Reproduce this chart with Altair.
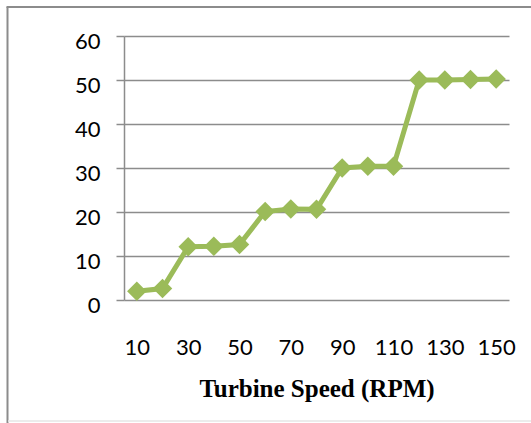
import altair as alt
import pandas as pd

speeds = [10, 20, 30, 40, 50, 60, 70, 80, 90, 100, 110, 120, 130, 140, 150]
values = [2.0, 2.6, 12.1, 12.2, 12.6, 20.1, 20.7, 20.6, 30.0, 30.4, 30.4, 50.0, 50.0, 50.1, 50.2]
x_labels = [10, 30, 50, 70, 90, 110, 130, 150]
y_ticks = [0, 10, 20, 30, 40, 50, 60]
x_title = "Turbine Speed (RPM)"

df = pd.DataFrame({"speed": speeds, "value": values})

GREEN = "#9BBB59"
GRID = "#8c8c8c"
LABEL_FONT = "Lato"

x_enc = alt.X(
    "speed:O",
    scale=alt.Scale(type="point", padding=0.5),
    axis=alt.Axis(
        values=x_labels,
        labelAngle=0,
        domain=False,
        ticks=False,
        tickSize=0,
        grid=False,
        labelPadding=37,
        labelFont=LABEL_FONT,
        labelFontSize=22,
        labelColor="#000000",
        title=x_title,
        titleFont="Liberation Serif",
        titleFontSize=25,
        titleFontWeight="bold",
        titleColor="#000000",
        titlePadding=18,
    ),
)
y_enc = alt.Y(
    "value:Q",
    scale=alt.Scale(domain=[0, 60], nice=False, zero=True),
    axis=alt.Axis(
        values=y_ticks,
        title=None,
        domain=True,
        domainColor=GRID,
        domainWidth=1.5,
        ticks=True,
        tickSize=8,
        tickColor=GRID,
        tickWidth=1.5,
        grid=True,
        gridColor=GRID,
        gridWidth=1.5,
        labelPadding=16,
        labelOffset=5,
        labelFont=LABEL_FONT,
        labelFontSize=22,
        labelColor="#000000",
    ),
)

base = alt.Chart(df)
line = base.mark_line(color=GREEN, strokeWidth=5).encode(x=x_enc, y=y_enc)
pts = base.mark_point(shape="diamond", filled=True, opacity=1, size=380, color=GREEN).encode(
    x=alt.X("speed:O"), y=alt.Y("value:Q")
)

one = pd.DataFrame({"a": [0]})
left_border = alt.Chart(one).mark_rule(color="#8c8c8c", strokeWidth=2).encode(
    x=alt.value(-116.5), y=alt.value(-29), y2=alt.value(390)
)
top_border = alt.Chart(one).mark_rule(color="#8c8c8c", strokeWidth=2).encode(
    x=alt.value(-117.5), x2=alt.value(410), y=alt.value(-29)
)
bottom_border = alt.Chart(one).mark_rule(color="#e6e6e6", strokeWidth=1.5).encode(
    x=alt.value(-116), x2=alt.value(410), y=alt.value(385)
)

chart = (
    alt.layer(line, pts, left_border, top_border, bottom_border)
    .properties(
        width=385,
        height=264,
        padding={"left": 124, "top": 36, "right": 22, "bottom": 123},
        autosize=alt.AutoSizeParams(type="none"),
        background="#ffffff",
    )
    .configure_view(stroke=None)
)

chart.save("out.html", embed_options={"renderer": "svg", "actions": False})
